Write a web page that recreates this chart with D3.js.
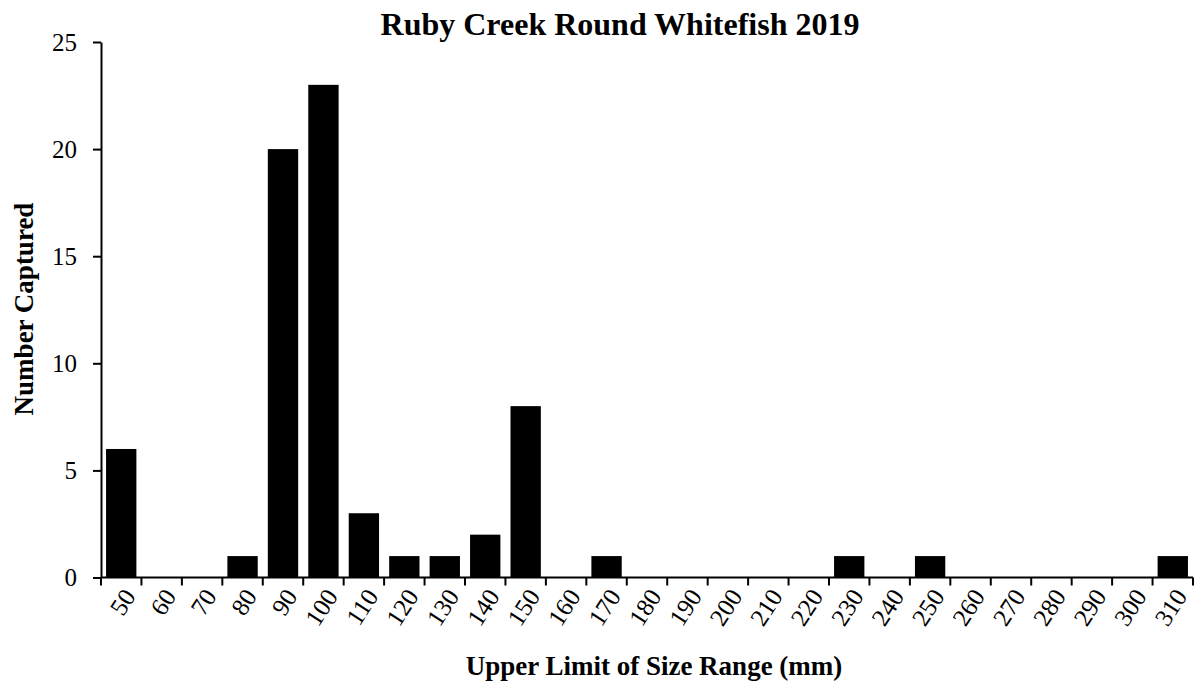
<!DOCTYPE html>
<html><head><meta charset="utf-8">
<script src="https://cdn.jsdelivr.net/npm/d3@7"></script>
<style>body{margin:0;background:#fff}</style>
</head><body>
<script>
const categories = ["50","60","70","80","90","100","110","120","130","140","150","160","170","180","190","200","210","220","230","240","250","260","270","280","290","300","310"];
const values = [6,0,0,1,20,23,3,1,1,2,8,0,1,0,0,0,0,0,1,0,1,0,0,0,0,0,1];
const yTicks = [0,5,10,15,20,25];
const title = "Ruby Creek Round Whitefish 2019";
const xTitle = "Upper Limit of Size Range (mm)";
const yTitle = "Number Captured";

const W=1196,H=681;
const m={left:101,right:3,top:42,bottom:103.5};
const svg=d3.select("body").append("svg").attr("width",W).attr("height",H);
const font="'Liberation Serif','Times New Roman',serif";
const x=d3.scaleBand().domain(categories).range([m.left,W-m.right]).paddingInner(0.25).paddingOuter(0.125);
const y=d3.scaleLinear().domain([0,25]).range([H-m.bottom,m.top]);

svg.append("g").selectAll("rect").data(values).join("rect")
  .attr("x",(d,i)=>x(categories[i])).attr("width",x.bandwidth())
  .attr("y",d=>y(d)).attr("height",d=>y(0)-y(d)).attr("fill","#000");

// y axis
const ya=svg.append("g").attr("transform",`translate(${m.left},0)`)
  .call(d3.axisLeft(y).tickValues(yTicks).tickSize(8).tickSizeOuter(0));
ya.select(".domain").attr("stroke","#000").attr("stroke-width",2);
ya.selectAll(".tick line").attr("stroke-width",2);
ya.selectAll("text").attr("font-family",font).attr("font-size",25).attr("fill","#000").attr("x",-24);

// x axis with ticks at band boundaries
const xa=svg.append("g").attr("transform",`translate(0,${y(0)})`);
xa.append("line").attr("x1",m.left).attr("x2",W-m.right).attr("stroke","#000").attr("stroke-width",2);
const step=x.step();
const edges=d3.range(categories.length+1).map(i=>m.left+i*step);
xa.selectAll(".tk").data(edges).join("line").attr("class","tk")
  .attr("x1",d=>d).attr("x2",d=>d).attr("y1",0).attr("y2",8).attr("stroke","#000").attr("stroke-width",2);
xa.selectAll(".lbl").data(categories).join("text").attr("class","lbl")
  .attr("transform",c=>`translate(${x(c)+x.bandwidth()/2+8},${14}) rotate(-57)`)
  .attr("text-anchor","end").attr("dy","0.35em")
  .attr("font-family",font).attr("font-size",25).attr("fill","#000").text(c=>c);

svg.append("text").attr("x",620).attr("y",35).attr("text-anchor","middle")
  .attr("font-family",font).attr("font-weight","bold").attr("font-size",32).text(title);
svg.append("text").attr("x",654).attr("y",675).attr("text-anchor","middle")
  .attr("font-family",font).attr("font-weight","bold").attr("font-size",27).text(xTitle);
svg.append("text").attr("transform",`translate(33,${309}) rotate(-90)`).attr("text-anchor","middle")
  .attr("font-family",font).attr("font-weight","bold").attr("font-size",27).text(yTitle);
</script>
</body></html>
